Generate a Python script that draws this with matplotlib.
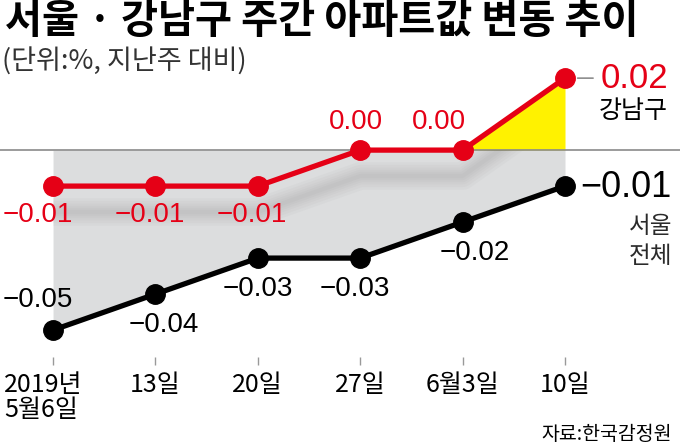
import matplotlib
matplotlib.use('Agg')
import matplotlib.pyplot as plt

weeks = ['2019년\n5월6일', '13일', '20일', '27일', '6월3일', '10일']
gangnam = [-0.01, -0.01, -0.01, 0.00, 0.00, 0.02]
seoul = [-0.05, -0.04, -0.03, -0.03, -0.02, -0.01]

RED = '#e50016'
GRAY_BG = '#dcddde'
YELLOW = '#fff200'
NUM = ['Liberation Sans Narrow', 'Liberation Sans', 'Noto Sans CJK KR']
KR = ['Noto Sans CJK KR', 'DejaVu Sans']
plt.rcParams['font.family'] = NUM


def fmt(v):
    s = '%.2f' % abs(v)
    return ('\u2212' + s) if v < 0 else s


fig = plt.figure(figsize=(6.8, 4.46), dpi=100)
ax = fig.add_axes([0, 0, 1, 1])
ax.set_xlim(-0.518, 6.123)
ax.set_ylim(-0.0822, 0.0417)
ax.axis('off')
x = list(range(len(weeks)))

# shaded areas
gray = ax.fill_between(x, seoul, 0, color=GRAY_BG, lw=0, zorder=1)
ax.fill_between(x, gangnam, 0, where=[v >= 0 for v in gangnam],
                color=YELLOW, lw=0, zorder=1)
ax.axhline(0, color='#8a8a8a', lw=1.2, zorder=2)

# soft shadow under the red line
shadow_y = [v - 0.0072 for v in gangnam]
for lw in [20, 16, 12, 9, 6, 3]:
    sh, = ax.plot(x, shadow_y, color='#666666', lw=lw, alpha=0.035,
                  solid_capstyle='round', solid_joinstyle='round', zorder=2)
    sh.set_clip_path(gray.get_paths()[0], transform=ax.transData)

ax.plot(x, seoul, color='black', lw=3.8, marker='o', ms=14, zorder=4)
ax.plot(x, gangnam, color=RED, lw=3.8, marker='o', ms=14, zorder=5)

# point labels (offsets in points)
red_off = [(-36, -21, 'left'), (-4, -21, 'center'), (-4, -21, 'center'),
           (-3, 20, 'center'), (-17, 20, 'center')]
for i, (dx, dy, ha) in enumerate(red_off):
    ax.annotate(fmt(gangnam[i]), (x[i], gangnam[i]), xytext=(dx, dy),
                textcoords='offset points', ha=ha, va='center',
                color=RED, fontsize=20, zorder=6)

blk_off = [(-36, 22, 'left'), (6, -22, 'center'), (0, -22, 'center'),
           (-4, -22, 'center'), (9, -22, 'center')]
for i, (dx, dy, ha) in enumerate(blk_off):
    ax.annotate(fmt(seoul[i]), (x[i], seoul[i]), xytext=(dx, dy),
                textcoords='offset points', ha=ha, va='center',
                color='black', fontsize=20, zorder=6)

# end labels
n = len(weeks) - 1
ax.annotate(fmt(gangnam[n]), (x[n], gangnam[n]), xytext=(74, 0),
            textcoords='offset points', ha='right', va='center',
            color=RED, fontsize=25,
            arrowprops=dict(arrowstyle='-', color='#777777', lw=1,
                            shrinkA=3, shrinkB=9))
ax.annotate('강남구', (x[n], gangnam[n]), xytext=(74, -24),
            textcoords='offset points', ha='right', va='center',
            color='black', fontsize=18, family=KR)
ax.annotate(fmt(seoul[n]), (x[n], seoul[n]), xytext=(77, -1),
            textcoords='offset points', ha='right', va='center',
            color='black', fontsize=26)
ax.annotate('서울', (x[n], seoul[n]), xytext=(77, -29),
            textcoords='offset points', ha='right', va='center',
            color='#2a2a2a', fontsize=17, family=KR)
ax.annotate('전체', (x[n], seoul[n]), xytext=(77, -51),
            textcoords='offset points', ha='right', va='center',
            color='#2a2a2a', fontsize=17, family=KR)

# x axis ticks and labels
ax.vlines(x, -0.0597, -0.0575, color='#999999', lw=1)
for i, lab in enumerate(weeks):
    if i == 0:
        ax.annotate(lab, (x[i], -0.0617), xytext=(-35, 0),
                    textcoords='offset points', ha='left', va='top',
                    fontsize=18, linespacing=0.95,
                    family=['Liberation Sans Narrow', 'Noto Sans CJK KR'])
    else:
        ax.text(x[i], -0.0617, lab, ha='center', va='top', fontsize=18,
                family=['Liberation Sans Narrow', 'Noto Sans CJK KR'])

fig.text(0.007, 0.998, '서울 · 강남구 주간 아파트값 변동 추이', ha='left', va='top',
         fontsize=29, fontweight='bold', family=KR)
fig.text(0.003, 0.893, '(단위:%, 지난주 대비)', ha='left', va='top',
         fontsize=19.5, color='#333333',
         family=['Liberation Sans Narrow', 'Noto Sans CJK KR'])
fig.text(0.988, 0.025, '자료:한국감정원', ha='right', va='center',
         fontsize=14, family=KR)

fig.savefig('out.png', dpi=100)
